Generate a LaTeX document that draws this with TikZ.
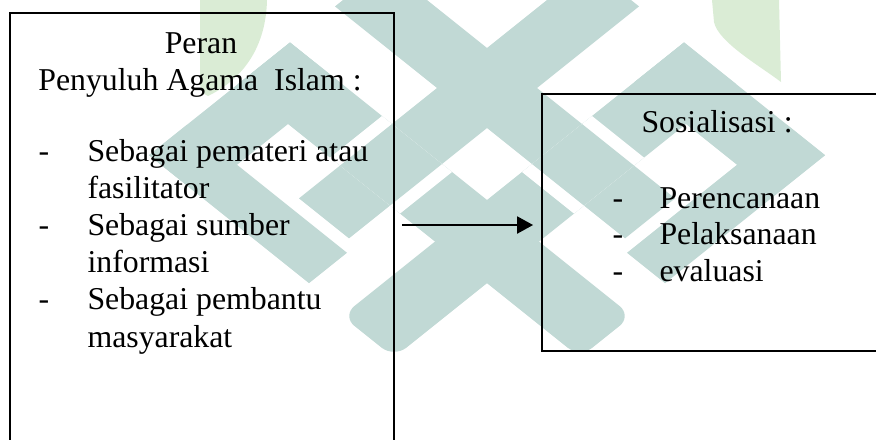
\documentclass[tikz,border=0pt]{standalone}
\usepackage{fontspec}
\setmainfont{Liberation Serif}
\usetikzlibrary{fit,arrows.meta}
\definecolor{ink}{RGB}{0,0,0}
\definecolor{wmteal}{RGB}{193,217,213}
\definecolor{wmgreen}{RGB}{218,236,213}
% a patch spanning [p1,p2] x [q1,q2] in the skewed emblem frame
\newcommand{\wmquad}[5][band]{\fill[#1] (#2,#3) -- (#4,#3) -- (#4,#5) -- (#2,#5) -- cycle;}
\begin{document}
\begin{tikzpicture}[x=0.3774pt,y=-0.3774pt,
  panel/.style={draw=ink, line width=0.75pt, inner sep=0pt},
  txt/.style={font=\fontsize{12}{14}\selectfont, inner sep=0pt, anchor=base west, text=ink},
  heading/.style={font=\fontsize{12}{14}\selectfont, inner sep=0pt, anchor=base, text=ink},
  conn/.style={draw=ink, line width=0.75pt, -{Triangle[length=6pt,width=6.4pt]}},
  band/.style={fill=wmteal},
  halo/.style={fill=white},
  leaf/.style={fill=wmgreen}]
\useasboundingbox (0,0) rectangle (876,439);
\clip (0,0) rectangle (876,439);

% background emblem: two leaves
\fill[leaf] (200,0) -- (267,0) .. controls (266,45) and (245,78) .. (208,96)
  .. controls (203,94) and (200,90) .. (200,82) -- cycle;
\fill[leaf] (712,0) -- (779,0) -- (781,82)
  .. controls (760,66) and (718,42) .. (714,22) -- cycle;

% background emblem: woven bands in a skewed (p,q) frame
\begin{scope}[shift={(183.79pt,0pt)}, x={(0.3774pt,-0.3019pt)}, y={(-0.3774pt,-0.3019pt)}]
  % outer frame pieces
  \wmquad{-72}{125}{-22}{266}
  \wmquad{-72}{228}{88}{266}
  \wmquad{125}{-72}{266}{-22}
  \wmquad{228}{-72}{266}{88}
  % long crossing bands with rounded lower ends
  \fill[band] (-72,125) -- (200,125) [rounded corners=6pt] -- (270,125) -- (270,177) [sharp corners] -- (-72,177) -- cycle;
  \fill[band] (125,-72) -- (125,200) [rounded corners=6pt] -- (125,270) -- (177,270) [sharp corners] -- (177,-72) -- cycle;
  % inner bands
  \wmquad{30}{-72}{80}{218}
  \wmquad{-72}{30}{218}{80}
  % over-crossings
  \wmquad[halo]{20}{125}{90}{177}
  \wmquad{30}{125}{80}{177}
  \wmquad[halo]{125}{20}{177}{90}
  \wmquad{125}{30}{177}{80}
\end{scope}

% boxes
\node[panel, fit={(10,13) (394,470)}] (peran) {};
\node[panel, fit={(542,94) (900,351)}] (sos) {};

% left box text
\node[heading] (h1) at (201,53) {Peran};
\node[heading] (h2) at (200,90) {Penyuluh Agama\ \ Islam :};
\node[txt] (d1) at (38,161) {-};
\node[txt] (l1) at (87,161) {Sebagai pemateri atau};
\node[txt] (l1b) at (87,198) {fasilitator};
\node[txt] (d2) at (38,235) {-};
\node[txt] (l2) at (87,235) {Sebagai sumber};
\node[txt] (l2b) at (87,272.5) {informasi};
\node[txt] (d3) at (38,309.5) {-};
\node[txt] (l3) at (87,309.5) {Sebagai pembantu};
\node[txt] (l3b) at (87,347) {masyarakat};

% right box text
\node[txt] (h3) at (641,132) {Sosialisasi :};
\node[txt] (e1) at (612,208) {-};
\node[txt] (r1) at (659,208) {Perencanaan};
\node[txt] (e2) at (612,244.5) {-};
\node[txt] (r2) at (659,244.5) {Pelaksanaan};
\node[txt] (e3) at (612,281) {-};
\node[txt] (r3) at (659,281) {evaluasi};

% connector
\coordinate (ay) at (0,225);
\draw[conn, shorten <=2.6pt, shorten >=3pt] (peran.east |- ay) -- (sos.west |- ay);
\end{tikzpicture}
\end{document}
